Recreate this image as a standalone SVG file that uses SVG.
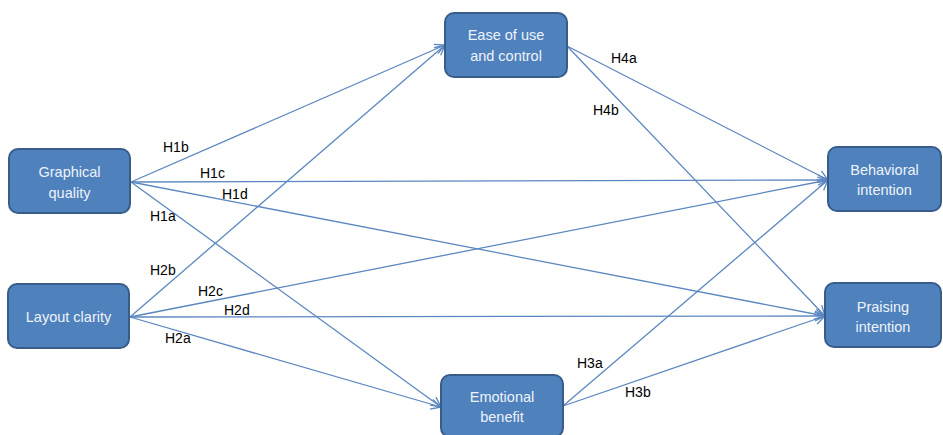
<svg xmlns="http://www.w3.org/2000/svg" width="943" height="435" viewBox="0 0 943 435">
<style>
.node rect{fill:#4F81BD;stroke:#385D8A;stroke-width:2}
.node text{fill:#EEF3FA;font-family:"Liberation Sans",Arial,sans-serif;font-size:14.5px;text-anchor:middle}
.edges line{stroke:#5B87C0;stroke-width:1.3;fill:none;marker-end:url(#arr)}
.lbl{fill:#000;font-family:"Liberation Sans",Arial,sans-serif;font-size:14px}
</style>
<defs>
<marker id="arr" viewBox="0 0 12 12" refX="11" refY="6" markerWidth="12" markerHeight="12" markerUnits="userSpaceOnUse" orient="auto">
<path d="M1,1 L11,6 L1,11" fill="none" stroke="#5B87C0" stroke-width="1.3"/>
</marker>
</defs>
<rect width="943" height="435" fill="#fff"/>
<g class="edges">
<line x1="131" y1="182" x2="445" y2="45"/>
<line x1="131" y1="182" x2="828" y2="180"/>
<line x1="131" y1="182" x2="825" y2="316"/>
<line x1="131" y1="182" x2="441" y2="407"/>
<line x1="130" y1="317" x2="445" y2="45"/>
<line x1="130" y1="317" x2="828" y2="180"/>
<line x1="130" y1="317" x2="825" y2="316"/>
<line x1="130" y1="317" x2="441" y2="407"/>
<line x1="567" y1="46" x2="828" y2="180"/>
<line x1="567" y1="46" x2="825" y2="316"/>
<line x1="563" y1="406" x2="828" y2="180"/>
<line x1="563" y1="406" x2="825" y2="316"/>
</g>
<g id="labels">
<text class="lbl" x="163" y="152">H1b</text>
<text class="lbl" x="200" y="178">H1c</text>
<text class="lbl" x="222" y="199">H1d</text>
<text class="lbl" x="150" y="221">H1a</text>
<text class="lbl" x="150" y="275">H2b</text>
<text class="lbl" x="198" y="296">H2c</text>
<text class="lbl" x="224" y="315">H2d</text>
<text class="lbl" x="165" y="343">H2a</text>
<text class="lbl" x="611" y="63">H4a</text>
<text class="lbl" x="593" y="115">H4b</text>
<text class="lbl" x="577" y="368">H3a</text>
<text class="lbl" x="625" y="397">H3b</text>
</g>
<g id="graphical" class="node">
<rect x="9" y="149" width="121" height="64" rx="9"/>
<text x="69.5" y="177">Graphical</text>
<text x="69.5" y="198">quality</text>
</g>
<g id="layout" class="node">
<rect x="8" y="284" width="121" height="64" rx="9"/>
<text x="68.5" y="322">Layout clarity</text>
</g>
<g id="ease" class="node">
<rect x="445" y="13" width="122" height="64" rx="9"/>
<text x="506" y="40">Ease of use</text>
<text x="506" y="61">and control</text>
</g>
<g id="emotional" class="node">
<rect x="441" y="375" width="122" height="62" rx="9"/>
<text x="502" y="402">Emotional</text>
<text x="502" y="422">benefit</text>
</g>
<g id="behavioral" class="node">
<rect x="828" y="147" width="113" height="64" rx="9"/>
<text x="884.5" y="175">Behavioral</text>
<text x="884.5" y="195">intention</text>
</g>
<g id="praising" class="node">
<rect x="825" y="283" width="116" height="64" rx="9"/>
<text x="883" y="312">Praising</text>
<text x="883" y="332">intention</text>
</g>
</svg>
